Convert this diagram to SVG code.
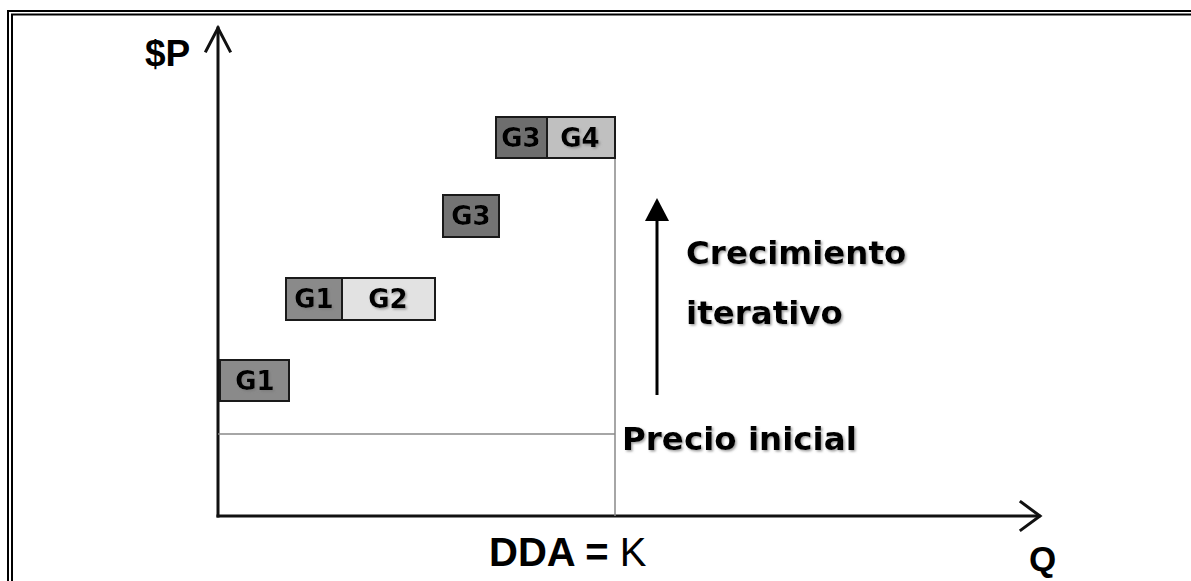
<svg xmlns="http://www.w3.org/2000/svg" width="1191" height="581" viewBox="0 0 1191 581">
  <defs>
    <filter id="shade" x="-10%" y="-20%" width="130%" height="160%">
      <feDropShadow dx="1.5" dy="1.5" stdDeviation="0.8" flood-color="#777" flood-opacity="0.7"/>
    </filter>
  </defs>
  <style>
    .frame { fill: none; stroke: #000; stroke-width: 2; }
    .axis { fill: none; stroke: #111; stroke-width: 3; stroke-linecap: square; }
    .guide { fill: none; stroke: #888; stroke-width: 1.5; }
    .box { stroke: #1a1a1a; stroke-width: 2; }
    .lbl { font-family: "DejaVu Sans", Verdana, sans-serif; font-weight: bold; fill: #000; filter: url(#shade); }
    .boxlbl { font-family: "DejaVu Sans", Verdana, sans-serif; font-weight: bold; font-size: 26px; fill: #000; text-anchor: middle; filter: url(#shade); }
    .axlbl { font-family: "Liberation Sans", Arial, sans-serif; font-weight: bold; fill: #000; }
  </style>
  <rect width="1191" height="581" fill="#fff"/>

  <!-- double frame along top and left -->
  <path class="frame" d="M8,581 V11 H1191"/>
  <path class="frame" d="M12,581 V14.5 H1191"/>

  <!-- axes and guide lines -->
  <g id="connectors">
    <path class="axis" d="M218,516 V28"/>
    <path class="axis" d="M206,51 L218,28 L230,51" stroke-linejoin="miter"/>
    <path class="axis" d="M218,516 H1039"/>
    <path class="axis" d="M1021,502 L1040,516 L1021,530"/>
    <path class="guide" d="M218,434 H615"/>
    <path class="guide" d="M615,118 V516" stroke-width="2"/>
    <path d="M657,395 V220" stroke="#000" stroke-width="3" fill="none"/>
    <path d="M645,221 L657,198 L669,221 Z" fill="#000"/>
  </g>

  <g id="axis-labels">
    <text class="axlbl" x="145" y="66" font-size="37">$P</text>
    <text class="axlbl" x="489" y="566" font-size="40">DDA = <tspan font-weight="normal">K</tspan></text>
    <text class="axlbl" x="1029" y="571" font-size="35">Q</text>
  </g>

  <g id="g1-initial">
    <rect class="box" x="220" y="360" width="69" height="41" fill="#8a8a8a"/>
    <text class="boxlbl" x="255" y="390">G1</text>
  </g>

  <g id="g1-g2">
    <rect class="box" x="286" y="278" width="56" height="42" fill="#8a8a8a"/>
    <text class="boxlbl" x="314" y="308">G1</text>
    <rect class="box" x="342" y="278" width="93" height="42" fill="#e2e2e2"/>
    <text class="boxlbl" x="388" y="308">G2</text>
  </g>

  <g id="g3-single">
    <rect class="box" x="443" y="195" width="56" height="42" fill="#737373"/>
    <text class="boxlbl" x="471" y="225">G3</text>
  </g>

  <g id="g3-g4">
    <rect class="box" x="496" y="117" width="51" height="41" fill="#6e6e6e"/>
    <text class="boxlbl" x="521" y="147">G3</text>
    <rect class="box" x="547" y="117" width="68" height="41" fill="#c0c0c0"/>
    <text class="boxlbl" x="580" y="147">G4</text>
  </g>

  <g id="growth-label">
    <text class="lbl" x="686" y="264" font-size="32.5">Crecimiento</text>
    <text class="lbl" x="686" y="324" font-size="32.5">iterativo</text>
  </g>

  <g id="initial-price-label">
    <text class="lbl" x="622" y="450" font-size="32.5">Precio inicial</text>
  </g>
</svg>
